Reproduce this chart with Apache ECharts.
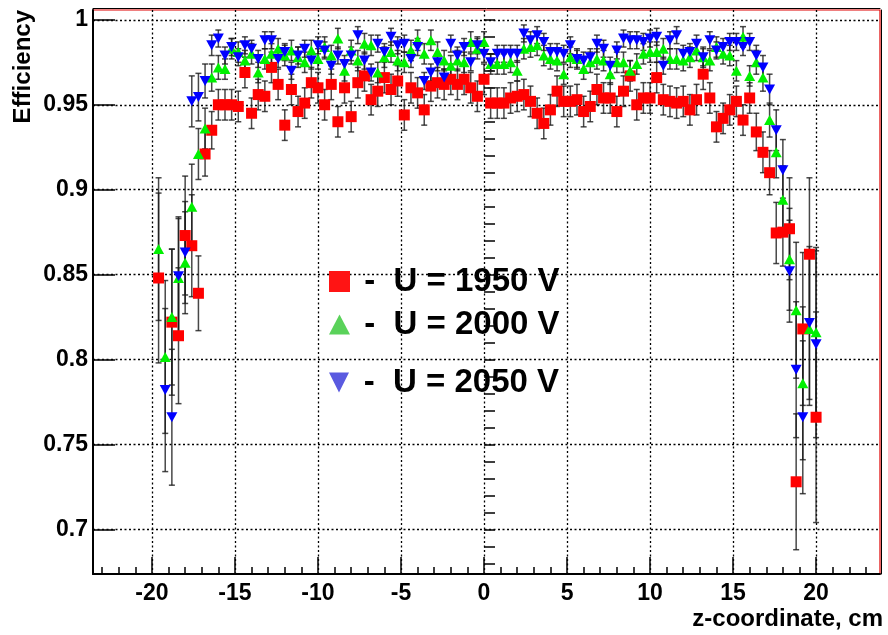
<!DOCTYPE html>
<html><head><meta charset="utf-8">
<script src="https://cdn.jsdelivr.net/npm/echarts@6/dist/echarts.min.js"></script>
<style>html,body{margin:0;padding:0;background:#fff}#c{width:888px;height:635px}</style>
</head><body><div id="c"></div>
<script>
// z positions (cm)
const zPos = [
 -19.6,-19.2,-18.8,-18.4,-18.0,-17.6,-17.2,-16.8,-16.4,-16.0,
 -15.6,-15.2,-14.8,-14.4,-14.0,-13.6,-13.2,-12.8,-12.4,-12.0,
 -11.6,-11.2,-10.8,-10.4,-10.0,-9.6,-9.2,-8.8,-8.4,-8.0,
 -7.6,-7.2,-6.8,-6.4,-6.0,-5.6,-5.2,-4.8,-4.4,-4.0,
 -3.6,-3.2,-2.8,-2.4,-2.0,-1.6,-1.2,-0.8,-0.4,0.0,
 0.4,0.8,1.2,1.6,2.0,2.4,2.8,3.2,3.6,4.0,
 4.4,4.8,5.2,5.6,6.0,6.4,6.8,7.2,7.6,8.0,
 8.4,8.8,9.2,9.6,10.0,10.4,10.8,11.2,11.6,12.0,
 12.4,12.8,13.2,13.6,14.0,14.4,14.8,15.2,15.6,16.0,
 16.4,16.8,17.2,17.6,18.0,18.4,18.8,19.2,19.6,20.0];

// efficiency, U = 1950 V
const eff1950 = [
 0.848,null,0.822,0.814,0.873,0.867,0.839,0.921,0.935,0.950,
 0.950,0.950,0.949,0.969,0.945,0.956,0.955,0.972,0.962,0.938,
 0.959,0.946,0.951,0.963,0.960,0.950,0.962,0.940,0.960,0.943,
 0.963,0.967,0.953,0.958,0.966,0.959,0.964,0.944,0.960,0.957,
 0.947,0.961,0.963,0.962,0.965,0.962,0.965,0.960,0.955,0.965,
 0.951,0.951,0.951,0.954,0.955,0.956,0.952,0.945,0.939,0.947,
 0.958,0.952,0.952,0.953,0.946,0.949,0.959,0.954,0.954,0.946,
 0.958,0.967,0.950,0.954,0.954,0.966,0.953,0.952,0.951,0.952,
 0.947,0.953,0.968,0.954,0.937,0.942,0.947,0.952,0.941,0.954,
 0.934,0.922,0.910,0.8745,0.875,0.877,0.728,0.818,0.862,0.766];
const err1950 = [
 0.050,null,0.043,0.040,0.035,0.030,0.022,0.013,0.011,0.009,
 0.009,0.009,0.009,0.009,0.009,0.009,0.009,0.009,0.009,0.009,
 0.009,0.009,0.009,0.009,0.009,0.009,0.009,0.009,0.009,0.009,
 0.009,0.009,0.009,0.009,0.009,0.009,0.009,0.009,0.009,0.009,
 0.009,0.009,0.009,0.009,0.009,0.009,0.009,0.009,0.009,0.009,
 0.009,0.009,0.009,0.009,0.009,0.009,0.009,0.009,0.009,0.009,
 0.009,0.009,0.009,0.009,0.009,0.009,0.009,0.009,0.009,0.009,
 0.009,0.009,0.009,0.009,0.009,0.009,0.009,0.009,0.009,0.009,
 0.009,0.009,0.009,0.009,0.009,0.009,0.009,0.009,0.009,0.009,
 0.011,0.012,0.013,0.018,0.020,0.030,0.040,0.045,0.045,0.062];

// efficiency, U = 2000 V
const eff2000 = [
 0.865,0.8015,0.825,0.848,0.857,0.890,0.921,0.936,0.966,0.972,
 0.971,0.983,0.981,0.976,0.980,0.969,0.977,0.980,0.983,0.979,
 0.982,0.978,0.975,0.982,0.977,0.984,0.979,0.989,0.970,0.982,
 0.976,0.986,0.985,0.969,0.978,0.981,0.976,0.975,0.982,0.988,
 0.980,0.988,0.981,0.976,0.973,0.976,0.975,0.987,0.983,0.987,
 0.974,0.974,0.974,0.975,0.970,0.983,0.984,0.985,0.979,0.977,
 0.976,0.968,0.978,0.977,0.971,0.975,0.977,0.976,0.968,0.975,
 0.975,0.970,0.974,0.980,0.981,0.981,0.983,0.977,0.977,0.976,
 0.978,0.982,0.978,0.976,0.984,0.980,0.979,0.970,0.990,0.967,
 0.975,0.966,0.941,0.922,0.894,0.859,0.829,0.786,0.818,0.816];
const err2000 = [
 0.042,0.045,0.040,0.035,0.030,0.025,0.015,0.012,0.008,0.007,
 0.006,0.006,0.006,0.006,0.006,0.006,0.006,0.006,0.006,0.006,
 0.006,0.006,0.006,0.006,0.006,0.006,0.006,0.006,0.006,0.006,
 0.006,0.006,0.006,0.006,0.006,0.006,0.006,0.006,0.006,0.006,
 0.006,0.006,0.006,0.006,0.006,0.006,0.006,0.006,0.006,0.006,
 0.006,0.006,0.006,0.006,0.006,0.006,0.006,0.006,0.006,0.006,
 0.006,0.006,0.006,0.006,0.006,0.006,0.006,0.006,0.006,0.006,
 0.006,0.006,0.006,0.006,0.006,0.006,0.006,0.006,0.006,0.006,
 0.006,0.006,0.006,0.006,0.006,0.006,0.006,0.006,0.006,0.006,
 0.007,0.008,0.010,0.015,0.020,0.030,0.040,0.045,0.045,0.050];

// efficiency, U = 2050 V
const eff2050 = [
 null,0.782,0.766,0.849,0.863,0.952,0.9545,0.964,0.985,0.989,
 0.979,0.984,0.978,0.985,0.983,0.977,0.988,0.988,0.977,0.981,
 0.970,0.979,0.983,0.976,0.985,0.982,0.973,0.979,0.974,0.979,
 0.991,0.976,0.969,0.986,0.981,0.990,0.985,0.986,0.977,0.984,
 0.964,0.969,0.975,0.966,0.986,0.979,0.984,0.975,0.985,0.980,
 0.975,0.980,0.980,0.980,0.980,0.992,0.988,0.991,0.987,0.981,
 0.981,0.980,0.985,0.977,0.976,0.978,0.986,0.983,0.973,0.982,
 0.989,0.988,0.988,0.987,0.989,0.990,0.973,0.988,0.991,0.980,
 0.981,0.986,0.978,0.988,0.982,0.984,0.987,0.987,0.984,0.987,
 0.979,0.972,0.959,0.935,0.9115,0.852,0.794,0.766,0.8215,0.809];
const err2050 = [
 null,0.048,0.040,0.035,0.030,0.015,0.014,0.010,0.006,0.005,
 0.005,0.005,0.005,0.005,0.005,0.005,0.005,0.005,0.005,0.005,
 0.005,0.005,0.005,0.005,0.005,0.005,0.005,0.005,0.005,0.005,
 0.005,0.005,0.005,0.005,0.005,0.005,0.005,0.005,0.005,0.005,
 0.005,0.005,0.005,0.005,0.005,0.005,0.005,0.005,0.005,0.005,
 0.005,0.005,0.005,0.005,0.005,0.005,0.005,0.005,0.005,0.005,
 0.005,0.005,0.005,0.005,0.005,0.005,0.005,0.005,0.005,0.005,
 0.005,0.005,0.005,0.005,0.005,0.005,0.005,0.005,0.005,0.005,
 0.005,0.005,0.005,0.005,0.005,0.005,0.005,0.005,0.005,0.005,
 0.006,0.007,0.009,0.012,0.018,0.030,0.040,0.045,0.045,0.055];

// axis ticks
const xMajor = [-20,-15,-10,-5,0,5,10,15,20];
const xMinor = [-23,-22,-21,-20,-19,-18,-17,-16,-15,-14,-13,-12,-11,-10,-9,-8,-7,-6,-5,-4,-3,-2,-1,0,1,2,3,4,5,6,7,8,9,10,11,12,13,14,15,16,17,18,19,20,21,22,23];
const yMajor = [0.7,0.75,0.8,0.85,0.9,0.95,1.0];
const yMinor = [0.68,0.69,0.70,0.71,0.72,0.73,0.74,0.75,0.76,0.77,0.78,0.79,0.80,0.81,0.82,0.83,0.84,0.85,0.86,0.87,0.88,0.89,0.90,0.91,0.92,0.93,0.94,0.95,0.96,0.97,0.98,0.99,1.00];
const xMin = -23.55, xMax = 23.85, yMin = 0.6737, yMax = 1.0058;

const names = ['U = 1950 V','U = 2000 V','U = 2050 V'];
const FONT = 'Liberation Sans';

function pts(vals){ const o=[]; zPos.forEach((z,i)=>{ if(vals[i]!=null) o.push([z, vals[i]]); }); return o; }
function errPts(vals, errs){ const o=[]; zPos.forEach((z,i)=>{ if(vals[i]!=null) o.push([z, vals[i], errs[i]]); }); return o; }

function errRender(params, api){
  const x = api.value(0), v = api.value(1), e = api.value(2);
  const hi = api.coord([x, v+e]), lo = api.coord([x, v-e]);
  const cw = 3, st = {stroke:'#1a1a1a', lineWidth:1.5, opacity:0.8};
  return {type:'group', children:[
    {type:'line', shape:{x1:hi[0],y1:hi[1],x2:lo[0],y2:lo[1]}, style:st},
    {type:'line', shape:{x1:hi[0]-cw,y1:hi[1],x2:hi[0]+cw,y2:hi[1]}, style:st},
    {type:'line', shape:{x1:lo[0]-cw,y1:lo[1],x2:lo[0]+cw,y2:lo[1]}, style:st}
  ]};
}
function errSeries(vals, errs){
  return {type:'custom', name:'err', renderItem:errRender, data:errPts(vals,errs),
    encode:{x:0,y:1}, clip:true, silent:true, xAxisIndex:0, yAxisIndex:0};
}
const invTri = 'path://M0,0L10,0L5,10Z';
function markSeries(name, vals, symbol, size, color){
  return {type:'scatter', name:name, data:pts(vals), symbol:symbol, symbolSize:size,
    itemStyle:{color:color, opacity:1}, xAxisIndex:0, yAxisIndex:0, silent:true};
}

const labelStyle = {fontSize:23, fontWeight:'bold', color:'#000', fontFamily:FONT};
const splitStyle = {show:true, lineStyle:{color:'#000', width:1.3, type:[2,2.5]}};

const legendCommon = {orient:'horizontal', padding:0, selectedMode:false,
  formatter: n => ' -  ' + n,
  textStyle:{fontSize:33, fontWeight:'bold', color:'#000', fontFamily:FONT, lineHeight:33}};

const option = {
  backgroundColor:'#fff',
  animation:false,
  grid:{left:93, right:8, top:10, bottom:61, show:true, borderColor:'#e00000', borderWidth:1.2, backgroundColor:'transparent'},
  xAxis:[
    {type:'value', min:xMin, max:xMax, position:'bottom',
     axisLine:{show:true, onZero:false, lineStyle:{color:'#000', width:2}},
     axisTick:{show:true, inside:true, length:17, customValues:xMajor, lineStyle:{color:'#000', width:1.5}},
     axisLabel:Object.assign({customValues:xMajor, margin:8}, labelStyle),
     splitLine:splitStyle},
    {type:'value', min:xMin, max:xMax, position:'bottom',
     axisLine:{show:false},
     axisTick:{show:true, inside:true, length:7, customValues:xMinor, lineStyle:{color:'#000', width:1.5}},
     axisLabel:{show:false}, splitLine:{show:false}},
    {type:'value', min:xMin, max:xMax, position:'top', offset:1.5,
     axisLine:{show:true, onZero:false, lineStyle:{color:'#000', width:1}},
     axisTick:{show:false}, axisLabel:{show:false}, splitLine:{show:false}}
  ],
  yAxis:[
    {type:'value', min:yMin, max:yMax, position:'left',
     axisLine:{show:true, onZero:false, lineStyle:{color:'#000', width:2}},
     axisTick:{show:true, inside:true, length:22, customValues:yMajor, lineStyle:{color:'#000', width:1.5}},
     axisLabel:Object.assign({customValues:yMajor, margin:5}, labelStyle),
     splitLine:splitStyle},
    {type:'value', min:yMin, max:yMax, position:'left',
     axisLine:{show:false},
     axisTick:{show:true, inside:true, length:11, customValues:yMinor, lineStyle:{color:'#000', width:1.5}},
     axisLabel:{show:false}, splitLine:{show:false}},
    {type:'value', min:yMin, max:yMax, position:'right', offset:1.5,
     axisLine:{show:true, onZero:false, lineStyle:{color:'#000', width:1}},
     axisTick:{show:false}, axisLabel:{show:false}, splitLine:{show:false}}
  ],
  legend:[
    Object.assign({}, legendCommon, {data:[{name:names[0], icon:'rect', itemStyle:{color:'#ff1414'}}], left:329, top:265, itemWidth:21, itemHeight:21}),
    Object.assign({}, legendCommon, {data:[{name:names[1], icon:'triangle', itemStyle:{color:'#5ad25a'}}], left:329, top:308, itemWidth:21, itemHeight:20}),
    Object.assign({}, legendCommon, {data:[{name:names[2], icon:invTri, itemStyle:{color:'#5a5ae0'}}], left:329, top:366, itemWidth:21, itemHeight:20})
  ],
  graphic:[
    {type:'text', x:23, y:10, rotation:Math.PI/2,
     style:{text:'Efficiency', fontSize:24, fontWeight:'bold', fontFamily:FONT, fill:'#000', align:'right', verticalAlign:'middle'}},
    {type:'text', x:883, y:619,
     style:{text:'z-coordinate, cm', fontSize:24, fontWeight:'bold', fontFamily:FONT, fill:'#000', align:'right', verticalAlign:'middle'}}
  ],
  series:[
    errSeries(eff1950, err1950),
    markSeries(names[0], eff1950, 'rect', 11, '#ff0000'),
    errSeries(eff2000, err2000),
    markSeries(names[1], eff2000, 'triangle', [11,10], '#00f000'),
    errSeries(eff2050, err2050),
    markSeries(names[2], eff2050, invTri, [11,10], '#0000ff')
  ]
};
const chart = echarts.init(document.getElementById('c'), null, {renderer:'canvas'});
chart.setOption(option);
</script></body></html>
